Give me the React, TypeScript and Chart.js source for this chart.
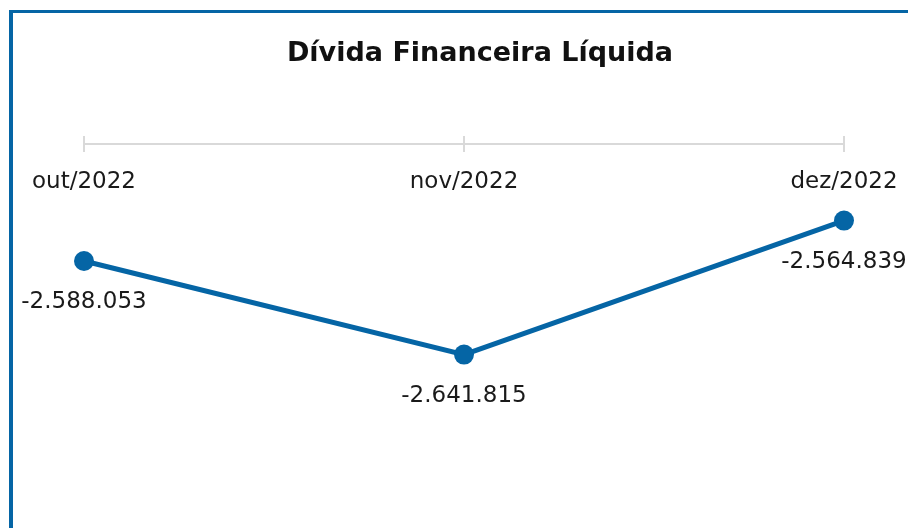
import React, { useEffect, useRef } from "react";
import { Chart, registerables } from "chart.js";

Chart.register(...registerables);

const TITLE = "Dívida Financeira Líquida";
const CATEGORIES = ["out/2022", "nov/2022", "dez/2022"];
const VALUES = [-2588053, -2641815, -2564839];
const Y_MIN = -2680000;
const Y_MAX = -2530000;

const BLUE = "#0565a5";
const FONT = "'DejaVu Sans', sans-serif";

function fmt(v: number): string {
  const s = Math.abs(Math.round(v)).toString();
  const parts: string[] = [];
  for (let i = s.length; i > 0; i -= 3) parts.unshift(s.slice(Math.max(0, i - 3), i));
  return (v < 0 ? "-" : "") + parts.join(".");
}

const decorPlugin = {
  id: "decor",
  beforeDatasetsDraw(chart: any) {
    const ctx = chart.ctx;
    const xs = chart.scales.x;
    ctx.save();
    // title
    ctx.fillStyle = "#111";
    ctx.font = `bold 27px ${FONT}`;
    ctx.textAlign = "center";
    ctx.textBaseline = "middle";
    ctx.fillText(TITLE, chart.width / 2, 41);
    // axis line
    const axisY = 131;
    const x0 = xs.getPixelForValue(0);
    const x1 = xs.getPixelForValue(CATEGORIES.length - 1);
    ctx.strokeStyle = "#d9d9d9";
    ctx.lineWidth = 2;
    ctx.beginPath();
    ctx.moveTo(x0, axisY);
    ctx.lineTo(x1, axisY);
    ctx.stroke();
    ctx.font = `23px ${FONT}`;
    ctx.fillStyle = "#1a1a1a";
    CATEGORIES.forEach((c, i) => {
      const x = xs.getPixelForValue(i);
      ctx.beginPath();
      ctx.moveTo(x, axisY - 8);
      ctx.lineTo(x, axisY + 8);
      ctx.stroke();
      ctx.fillText(c, x, 169);
    });
    ctx.restore();
  },
  afterDatasetsDraw(chart: any) {
    const ctx = chart.ctx;
    const meta = chart.getDatasetMeta(0);
    ctx.save();
    ctx.font = `23px ${FONT}`;
    ctx.fillStyle = "#1a1a1a";
    ctx.textAlign = "center";
    ctx.textBaseline = "middle";
    meta.data.forEach((pt: any, i: number) => {
      ctx.fillText(fmt(VALUES[i]), pt.x, pt.y + 41);
    });
    ctx.restore();
  },
};

export default function App() {
  const ref = useRef<HTMLCanvasElement>(null);
  useEffect(() => {
    if (!ref.current) return;
    const chart = new Chart(ref.current, {
      type: "line",
      data: {
        labels: CATEGORIES,
        datasets: [
          {
            data: VALUES,
            borderColor: BLUE,
            backgroundColor: BLUE,
            borderWidth: 5,
            pointRadius: 10,
            pointHoverRadius: 10,
            pointBackgroundColor: BLUE,
            pointBorderColor: BLUE,
            pointBorderWidth: 0,
            tension: 0,
            clip: false as any,
          },
        ],
      },
      options: {
        responsive: false,
        animation: false,
        layout: { padding: { left: 71, right: 103, top: 147, bottom: 107 } },
        scales: {
          x: { display: false, offset: false },
          y: { display: false, min: Y_MIN, max: Y_MAX },
        },
        plugins: {
          legend: { display: false },
          tooltip: { enabled: false },
          title: { display: false },
        },
      },
      plugins: [decorPlugin],
    });
    return () => chart.destroy();
  }, []);

  return (
    <div style={{ position: "fixed", left: 0, top: 0, right: 0, bottom: 0, overflow: "hidden", background: "#fff" }}>
      <div
        style={{
          position: "absolute",
          left: 9,
          top: 10,
          width: 1000,
          height: 600,
          borderLeft: `4px solid ${BLUE}`,
          borderTop: `3px solid ${BLUE}`,
          background: "#fff",
        }}
      >
        <canvas ref={ref} width={934} height={515} style={{ position: "absolute", left: 0, top: 0, width: 934, height: 515 }} />
      </div>
    </div>
  );
}
